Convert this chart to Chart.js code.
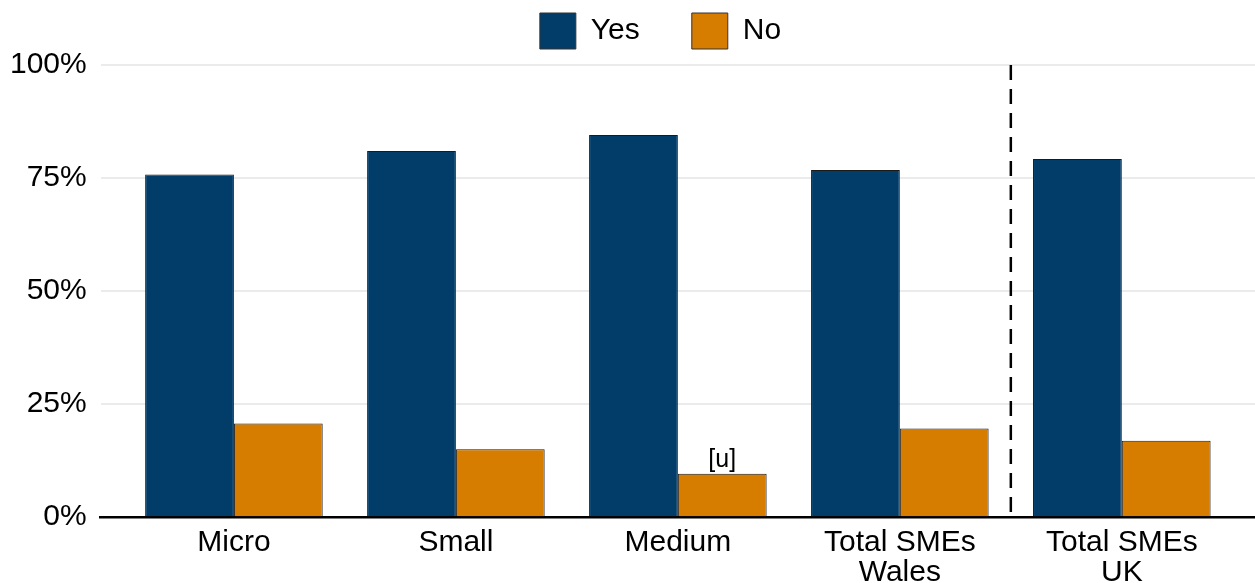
<!DOCTYPE html>
<html>
<head>
<meta charset="utf-8">
<script src="https://cdn.jsdelivr.net/npm/chart.js@4"></script>
<style>
html,body{margin:0;padding:0;background:#fff;}
#wrap{width:1255px;height:583px;}
</style>
</head>
<body>
<div id="wrap"><canvas id="c" width="1255" height="583"></canvas></div>
<script>
const categories = [["Micro"], ["Small"], ["Medium"], ["Total SMEs", "Wales"], ["Total SMEs", "UK"]];
const yesValues = [75.8, 81.0, 84.5, 76.8, 79.2];
const noValues = [20.7, 15.0, 9.6, 19.6, 16.9];
const noLabels = ["", "", "[u]", "", ""];
const yTicks = [0, 25, 50, 75, 100];
const separatorAt = 3.5;

const FONT = "'Liberation Sans', Arial, sans-serif";

const toPoints = arr => arr.map((v, i) => ({x: i, y: v}));

const legendShift = {
  id: 'legendShift',
  afterLayout(chart) {
    const lg = chart.legend;
    if (lg) { lg.left += 35; lg.right += 35; }
  }
};

const annot = {
  id: 'annot',
  afterDatasetsDraw(chart) {
    const ctx = chart.ctx;
    const xs = chart.scales.x, ys = chart.scales.y;
    const px = xs.getPixelForValue(separatorAt);
    ctx.save();
    ctx.strokeStyle = '#000';
    ctx.lineWidth = 2.5;
    ctx.setLineDash([15, 9]);
    ctx.beginPath();
    ctx.moveTo(px, ys.getPixelForValue(100));
    ctx.lineTo(px, ys.getPixelForValue(0));
    ctx.stroke();
    ctx.restore();
    const meta = chart.getDatasetMeta(1);
    ctx.save();
    ctx.font = "25px " + FONT;
    ctx.fillStyle = '#000';
    ctx.textAlign = 'center';
    ctx.textBaseline = 'bottom';
    meta.data.forEach((el, i) => {
      if (noLabels[i]) ctx.fillText(noLabels[i], el.x, el.y - 1);
    });
    ctx.restore();
  }
};

new Chart(document.getElementById('c'), {
  type: 'bar',
  data: {
    datasets: [
      {label: 'Yes', data: toPoints(yesValues), backgroundColor: '#023D6A', borderColor: '#1a1a1a', borderWidth: 1, categoryPercentage: 0.8, barPercentage: 1.0},
      {label: 'No', data: toPoints(noValues), backgroundColor: '#D67D00', borderColor: '#1a1a1a', borderWidth: 1, categoryPercentage: 0.8, barPercentage: 1.0}
    ]
  },
  options: {
    responsive: false,
    animation: false,
    layout: {padding: {left: -4, right: 0, top: -39, bottom: -15}},
    plugins: {
      tooltip: {enabled: false},
      title: {display: true, text: ' ', weight: 500, padding: 0, font: {size: 5, lineHeight: 1.2}},
      legend: {
        position: 'top',
        align: 'center',
        labels: {
          font: {family: FONT, size: 30},
          color: '#000',
          boxWidth: 36,
          boxHeight: 36,
          padding: 52,
          generateLabels(chart) {
            return chart.data.datasets.map((ds, i) => ({
              text: ds.label, fillStyle: ds.backgroundColor, strokeStyle: '#333', lineWidth: 1,
              fontColor: '#000', datasetIndex: i, hidden: false
            }));
          }
        }
      }
    },
    scales: {
      x: {
        type: 'linear',
        min: -0.6,
        max: 4.6,
        offset: false,
        grid: {display: false, drawTicks: false},
        border: {display: true, color: '#000', width: 2.5},
        afterBuildTicks(scale) { scale.ticks = categories.map((c, i) => ({value: i})); },
        ticks: {
          autoSkip: false,
          maxRotation: 0,
          padding: 11,
          color: '#000',
          font: {family: FONT, size: 30, lineHeight: 0.98},
          callback: (v) => categories[v]
        }
      },
      y: {
        min: 0,
        max: 100,
        afterBuildTicks(scale) { scale.ticks = yTicks.map(v => ({value: v})); },
        grid: {color: '#EBEBEB', lineWidth: 2, drawTicks: false},
        border: {display: false},
        ticks: {
          padding: 14,
          color: '#000',
          font: {family: FONT, size: 30},
          callback: v => v + '%'
        }
      }
    }
  },
  plugins: [annot, legendShift]
});
</script>
</body>
</html>
